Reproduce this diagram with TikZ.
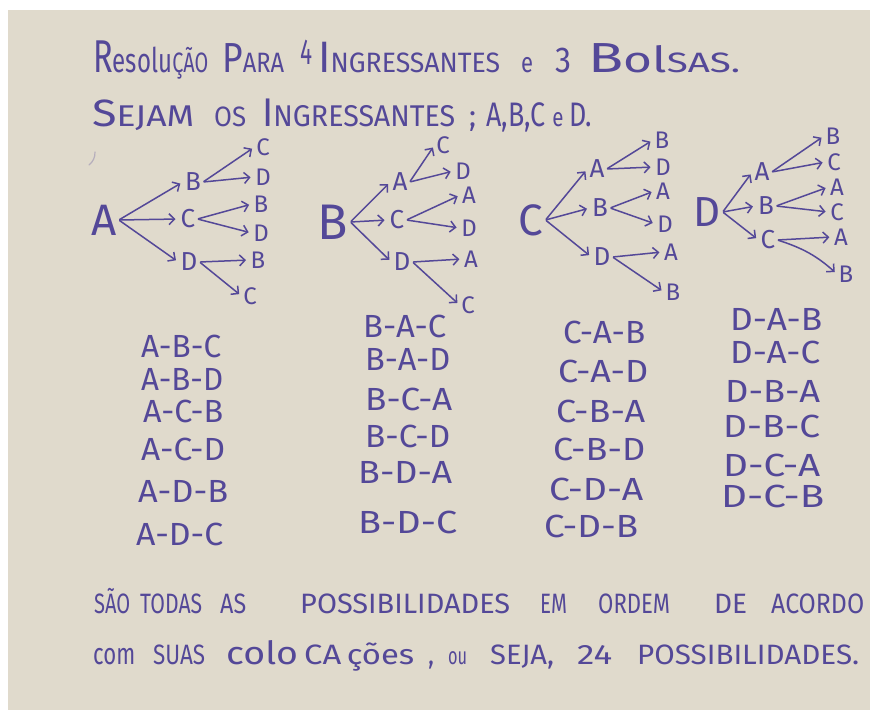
\documentclass[tikz,border=0pt]{standalone}
\usepackage{fontspec}
\usepackage{graphicx}
\setmainfont{Fira Sans}
\usetikzlibrary{arrows.meta}
\definecolor{paper}{RGB}{224,218,204}
\definecolor{ink}{RGB}{84,72,152}
% squeeze or stretch a word to a given width, keeping its height
\newcommand\hw[2]{\resizebox{#1pt}{\height}{#2}}
\newcommand\fs[1]{\fontsize{#1}{#1}\selectfont}
\begin{document}
\begin{tikzpicture}[x=1pt,y=-1pt,
  word/.style={text=ink,anchor=base west,inner sep=0pt},
  rootl/.style={text=ink,inner sep=2pt},
  lbl/.style={text=ink,font=\fs{26},inner sep=2pt},
  leaf/.style={text=ink,font=\fs{24},inner sep=1.5pt},
  item/.style={word,font=\fs{32}},
  arr/.style={draw=ink,line width=1.5pt,line cap=round,
    -{Straight Barb[length=5.5pt,width=11pt,line width=1.5pt]},
    shorten >=3pt,shorten <=1pt}]
\useasboundingbox (0,0) rectangle (870,710);
\fill[white] (0,0) rectangle (870,710);
\fill[paper] (8,10) rectangle (870,710);

% heading
\node[word] (t1) at (93,72) {\hw{115}{\fs{46}R\fs{34}esolu\fs{28}ÇÃO}};
\node[word] (t2) at (222,72) {\hw{62}{\fs{42}P\fs{28}ARA}};
\node[word] (t3) at (300,64) {\hw{12}{\fs{36}4}};
\node[word] (t4) at (318,72) {\hw{182}{\fs{44}I\fs{28}NGRESSANTES}};
\node[word] (t5) at (521,72) {\hw{12}{\fs{28}e}};
\node[word] (t6) at (555,72) {\hw{16}{\fs{36}3}};
\node[word] (t7) at (588,72) {\hw{152}{\fs{42}B\fs{36}ol\fs{28}SAS.}};

\node[word] (s1) at (92,126) {\hw{102}{\fs{38}S\fs{30}EJAM}};
\node[word] (s2) at (214,126) {\hw{32}{\fs{28}OS}};
\node[word] (s3) at (262,126) {\hw{193}{\fs{40}I\fs{30}NGRESSANTES}};
\node[word] (s4) at (469,126) {\hw{7}{\fs{30};}};
\node[word] (s5) at (486,126) {\hw{106}{\fs{34}A,B,C \fs{26}e \fs{34}D.}};

% stray pen mark
\draw[ink!30!paper,line width=1.2pt,line cap=round] (95,152) to[bend left=25] (89,165);

% tree rooted at A
\node[rootl,font=\fs{44}] (aR) at (104,220) {A};
\node[lbl] (aB) at (193,182) {B};
\node[lbl] (aC) at (188,219) {C};
\node[lbl] (aD) at (189,262) {D};
\node[leaf] (aBC) at (263,147) {C};
\node[leaf] (aBD) at (263,177) {D};
\node[leaf] (aCB) at (261,204) {B};
\node[leaf] (aCD) at (261,233) {D};
\node[leaf] (aDB) at (258,260) {B};
\node[leaf] (aDC) at (250,296) {C};

% tree rooted at B
\node[rootl,font=\fs{50}] (bR) at (333,222) {B};
\node[lbl] (bA) at (400,182) {A};
\node[lbl] (bC) at (397,220) {C};
\node[lbl] (bD) at (402,262) {D};
\node[leaf] (bAC) at (443,145) {C};
\node[leaf] (bAD) at (463,171) {D};
\node[leaf] (bCA) at (469,195) {A};
\node[leaf] (bCD) at (469,228) {D};
\node[leaf] (bDA) at (471,259) {A};
\node[leaf] (bDC) at (468,305) {C};

% tree rooted at C
\node[rootl,font=\fs{44}] (cR) at (531,220) {C};
\node[lbl] (cA) at (597,169) {A};
\node[lbl] (cB) at (600,208) {B};
\node[lbl] (cD) at (602,257) {D};
\node[leaf] (cAB) at (662,140) {B};
\node[leaf] (cAD) at (663,167) {D};
\node[leaf] (cBA) at (663,191) {A};
\node[leaf] (cBD) at (665,224) {D};
\node[leaf] (cDA) at (671,252) {A};
\node[leaf] (cDB) at (673,292) {B};

% tree rooted at D
\node[rootl,font=\fs{42}] (dR) at (707,212) {D};
\node[lbl] (dA) at (762,172) {A};
\node[lbl] (dB) at (766,206) {B};
\node[lbl] (dC) at (768,240) {C};
\node[leaf] (dAB) at (833,136) {B};
\node[leaf] (dAC) at (834,162) {C};
\node[leaf] (dBA) at (837,187) {A};
\node[leaf] (dBC) at (837,212) {C};
\node[leaf] (dCA) at (841,237) {A};
\node[leaf] (dCB) at (846,274) {B};

% first choice
\foreach \t/\x/\y/\z in {a/B/C/D,b/A/C/D,c/A/B/D,d/A/B/C}
  \foreach \m in {\x,\y,\z}
    \draw[arr] (\t R.east) -- (\t\m.west);
% second choice
\foreach \t/\m/\u/\v in {a/B/C/D,a/C/B/D,a/D/B/C,b/A/C/D,b/C/A/D,b/D/A/C,
                         c/A/B/D,c/B/A/D,c/D/A/B,d/A/B/C,d/B/A/C}{
  \draw[arr] (\t\m.east) -- (\t\m\u.west);
  \draw[arr] (\t\m.east) -- (\t\m\v.west);
}
\draw[arr] (dC.east) -- (dCA.west);
\draw[arr] (dC.east) to[bend left=12] (dCB.west);

% the 24 orderings
\node[item] (la1) at (141,357) {\hw{80}{A-B-C}};
\node[item] (la2) at (141,390) {\hw{82}{A-B-D}};
\node[item] (la3) at (143,422) {\hw{80}{A-C-B}};
\node[item] (la4) at (141,460) {\hw{84}{A-C-D}};
\node[item] (la5) at (138,502) {\hw{90}{A-D-B}};
\node[item] (la6) at (136,545) {\hw{87}{A-D-C}};

\node[item] (lb1) at (363,337) {\hw{83}{B-A-C}};
\node[item] (lb2) at (365,370) {\hw{85}{B-A-D}};
\node[item] (lb3) at (365,410) {\hw{87}{B-C-A}};
\node[item] (lb4) at (365,447) {\hw{85}{B-C-D}};
\node[item] (lb5) at (358,483) {\hw{94}{B-D-A}};
\node[item] (lb6) at (358,533) {\hw{99}{B-D-C}};

\node[item] (lc1) at (563,343) {\hw{82}{C-A-B}};
\node[item] (lc2) at (558,382) {\hw{90}{C-A-D}};
\node[item] (lc3) at (556,422) {\hw{89}{C-B-A}};
\node[item] (lc4) at (553,460) {\hw{92}{C-B-D}};
\node[item] (lc5) at (549,500) {\hw{94}{C-D-A}};
\node[item] (lc6) at (544,537) {\hw{94}{C-D-B}};

\node[item] (ld1) at (730,330) {\hw{92}{D-A-B}};
\node[item] (ld2) at (730,363) {\hw{90}{D-A-C}};
\node[item] (ld3) at (725,402) {\hw{95}{D-B-A}};
\node[item] (ld4) at (723,437) {\hw{97}{D-B-C}};
\node[item] (ld5) at (723,476) {\hw{97}{D-C-A}};
\node[item] (ld6) at (721,507) {\hw{103}{D-C-B}};

% closing sentence
\node[word,font=\fs{28}] (u1) at (94,613) {\hw{36}{SÃO}};
\node[word,font=\fs{28}] (u2) at (140,613) {\hw{62}{TODAS}};
\node[word,font=\fs{28}] (u3) at (220,613) {\hw{26}{AS}};
\node[word,font=\fs{28}] (u4) at (300,613) {\hw{210}{POSSIBILIDADES}};
\node[word,font=\fs{28}] (u5) at (540,613) {\hw{27}{EM}};
\node[word,font=\fs{28}] (u6) at (598,613) {\hw{72}{ORDEM}};
\node[word,font=\fs{28}] (u7) at (714,613) {\hw{33}{DE}};
\node[word,font=\fs{28}] (u8) at (771,613) {\hw{93}{ACORDO}};

\node[word,font=\fs{30}] (v1) at (93,664) {\hw{42}{com}};
\node[word,font=\fs{28}] (v2) at (153,664) {\hw{52}{SUAS}};
\node[word,font=\fs{28}] (v3) at (226,664) {\hw{188}{\fs{32}colo\,\fs{28}CA\,ções}};
\node[word,font=\fs{28}] (v4) at (428,664) {\hw{6}{,}};
\node[word,font=\fs{24}] (v5) at (448,664) {\hw{19}{ou}};
\node[word,font=\fs{28}] (v6) at (490,664) {\hw{64}{SEJA,}};
\node[word,font=\fs{28}] (v7) at (577,664) {\hw{35}{24}};
\node[word,font=\fs{28}] (v8) at (637,664) {\hw{222}{POSSIBILIDADES.}};
\end{tikzpicture}
\end{document}
